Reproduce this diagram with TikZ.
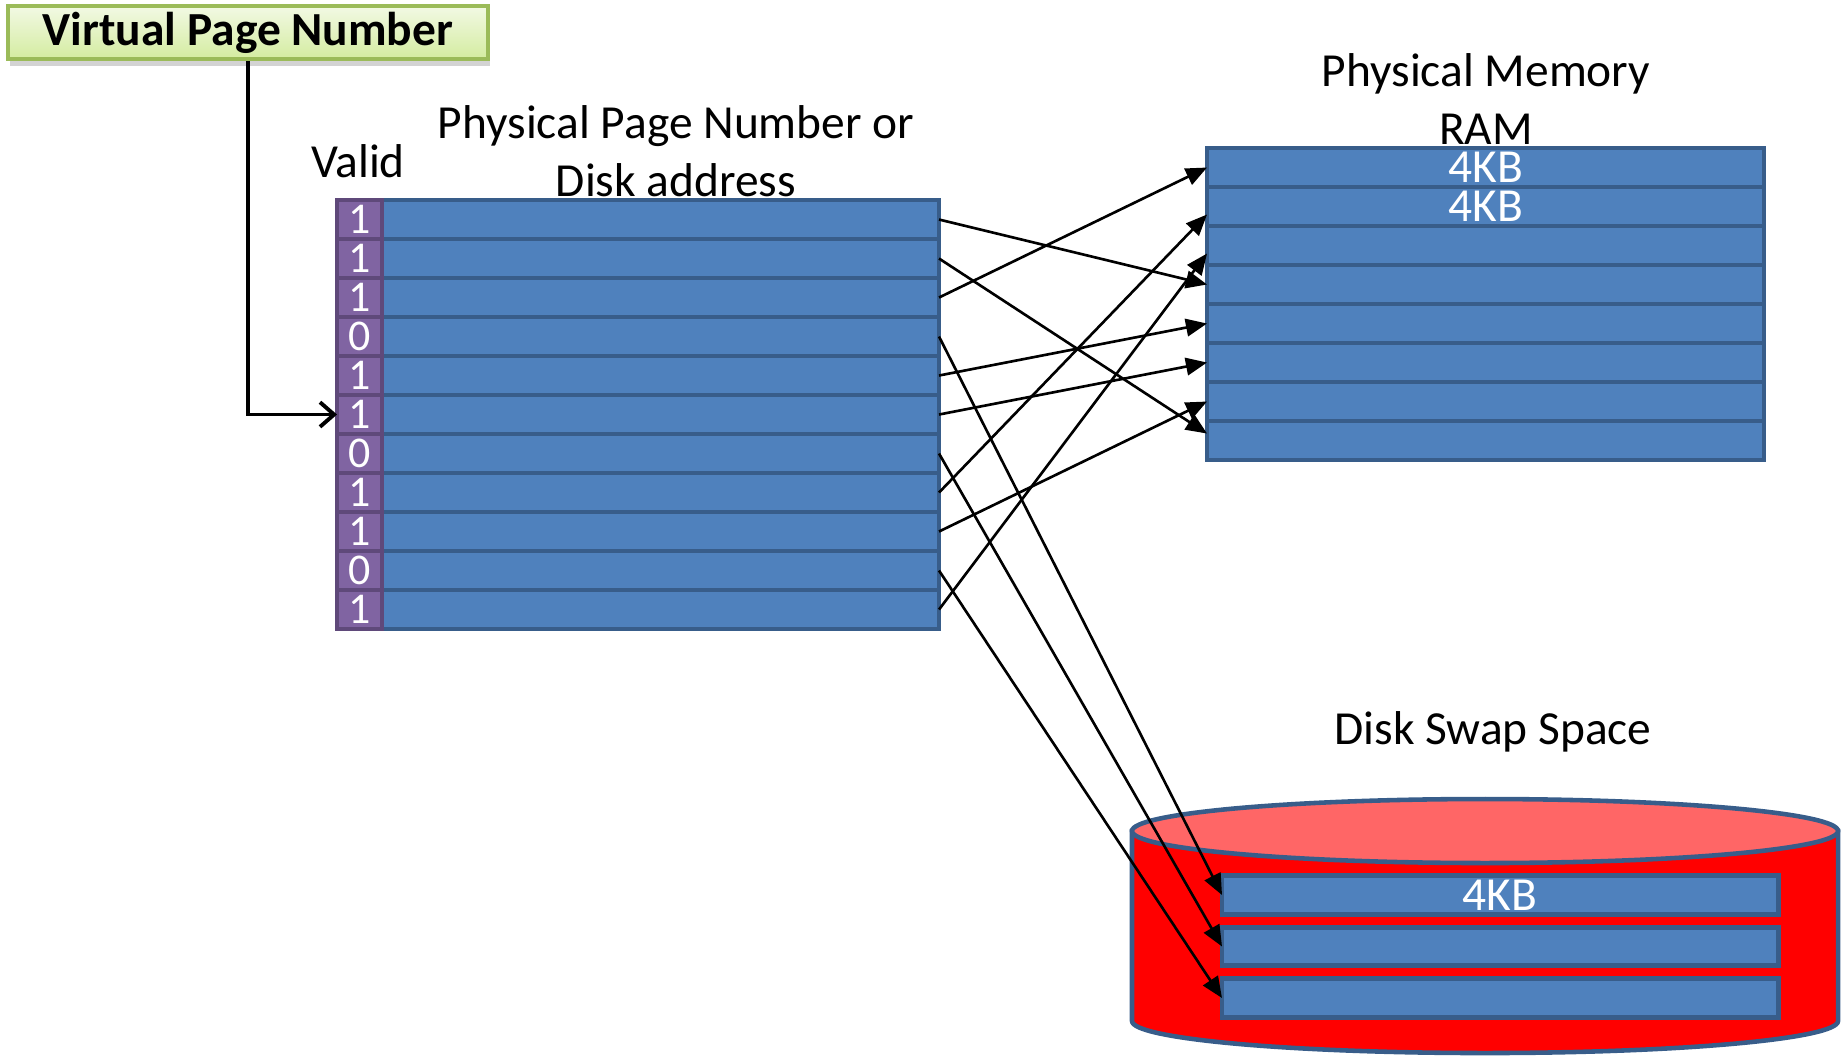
\documentclass[tikz,border=0pt]{standalone}
\usepackage{fontspec}
\setmainfont{Carlito}
\usetikzlibrary{%
    arrows.meta,
    positioning,
    shadows
}
\definecolor{slotblue}{HTML}{4F81BD}
\definecolor{slotedge}{HTML}{385D8A}
\definecolor{validpurple}{HTML}{8064A2}
\definecolor{validedge}{HTML}{5F497A}
\definecolor{vpnedge}{HTML}{9BBB59}
\definecolor{vpntop}{HTML}{F2F9E4}
\definecolor{vpnbottom}{HTML}{D4ECA0}
\definecolor{disktop}{HTML}{FF6666}
\tikzset{
    maparrow/.style = {-{Triangle[length=6pt,width=5pt]}, line width=.75pt},
    vpnarrow/.style = {-{Straight Barb[length=4pt,width=7pt]}, line width=1.1pt},
    slot/.style = {draw=slotedge, fill=slotblue, line width=1.4pt, outer sep=0pt,
        inner sep=0pt, minimum width=5.57cm, minimum height=.39cm, text=white},
    validbit/.style = {draw=validedge, fill=validpurple, line width=1.4pt, outer sep=0pt,
        inner sep=0pt, minimum width=.45cm, minimum height=.39cm, text=white,
        font=\fontsize{12.5}{13}\selectfont},
    vpnbox/.style = {draw=vpnedge, line width=1pt, top color=vpntop, bottom color=vpnbottom,
        minimum width=4.8cm, minimum height=.53cm, inner sep=0pt,
        drop shadow={shadow xshift=.5pt, shadow yshift=-2pt, opacity=.35}},
    headtext/.style = {inner sep=0pt},
    diskedge/.style = {draw=slotedge, line width=1.3pt}
}

\begin{document}
\begin{tikzpicture}[font=\fontsize{13.5}{16.4}\selectfont]
    \useasboundingbox (0,0) rectangle (18.43,-10.55);

    \node[vpnbox] (vpn) at (2.48,-.325) {\bfseries Virtual Page Number};
    \node[headtext] (valid) at (3.58,-1.61) {Valid};
    \node[headtext, align=center] (ppn) at (6.76,-1.51) {Physical Page Number or\\Disk address};
    \node[headtext, align=center] (ramlabel) at (14.86,-.99) {Physical Memory\\RAM};
    \node[headtext] (disklabel) at (14.93,-7.32) {Disk Swap Space};

    % page table
    \node[slot] (p0) at (6.605,-2.195) {};
    \foreach \i [remember=\i as \last (initially 0)] in {1,...,10}
        \node[slot, below=0pt of p\last] (p\i) {};
    \foreach \b [count=\i from 0] in {1,1,1,0,1,1,0,1,1,0,1}
        \node[validbit, left=0pt of p\i] (v\i) {\b};

    % physical memory
    \node[slot] (m0) at (14.855,-1.675) {4KB};
    \node[slot, below=0pt of m0] (m1) {4KB};
    \foreach \i [remember=\i as \last (initially 1)] in {2,...,7}
        \node[slot, below=0pt of m\last] (m\i) {};

    % swap disk
    \draw[diskedge, fill=red] (11.32,-8.31) -- (11.32,-10.21)
        arc[start angle=180, end angle=360, x radius=3.53, y radius=.32] -- (18.38,-8.31) -- cycle;
    \draw[diskedge, fill=disktop] (14.85,-8.31) ellipse[x radius=3.53, y radius=.32];
    \node[slot, minimum width=5.56cm, minimum height=.385cm] (d0) at (15.0,-8.95) {4KB};
    \foreach \i [remember=\i as \last (initially 0)] in {1,2}
        \node[slot, minimum width=5.56cm, minimum height=.385cm, below=.13cm of d\last] (d\i) {};

    \draw[vpnarrow] (vpn.south) |- (v5.west);
    \foreach \from/\to/\dy in {0/m3/0, 1/m7/.07, 2/m0/0, 3/d0/0, 4/m4/0, 5/m5/0,
        6/d1/0, 7/m1/-.08, 8/m6/0, 9/d2/0, 10/m2/-.08}
        \draw[maparrow] (p\from.east) -- ([yshift=\dy cm]\to.west);
\end{tikzpicture}
\end{document}
